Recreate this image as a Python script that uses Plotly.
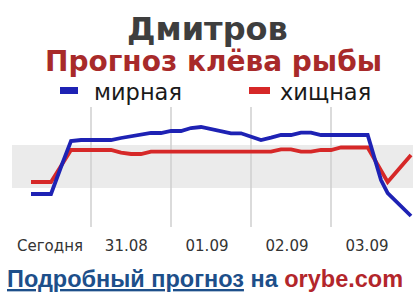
import plotly.graph_objects as go

# ---- data (hours from start of "today"; bite activity index) ----
blue_hours = [6, 9, 12, 15, 18, 21, 24, 27, 30, 33, 36, 39, 42, 45, 48, 51, 54, 57, 60,
              63, 66, 69, 72, 75, 78, 81, 84, 87, 90, 93, 96, 99, 102, 105, 107, 111, 113, 120]
blue_vals = [3.6, 3.6, 3.6, 6.3, 8.9, 9.0, 9.0, 9.0, 9.0, 9.2, 9.35, 9.5, 9.7, 9.7, 9.9, 9.9,
             10.2, 10.3, 10.07, 9.83, 9.67, 9.67, 9.3, 9.0, 9.23, 9.5, 9.5, 9.73, 9.73, 9.5,
             9.5, 9.5, 9.5, 9.5, 9.5, 5.0, 3.7, 1.4]

red_hours = [6, 9, 12, 15, 18, 21, 24, 27, 30, 33, 36, 39, 42, 45, 48, 51, 54, 57, 60,
             63, 66, 69, 72, 75, 78, 81, 84, 87, 90, 93, 96, 99, 102, 105, 107, 113, 120]
red_vals = [4.8, 4.8, 4.8, 6.4, 8.0, 8.0, 8.0, 8.0, 8.0, 7.73, 7.6, 7.6, 7.83, 7.83, 7.83,
            7.83, 7.83, 7.83, 7.83, 7.83, 7.83, 7.83, 7.83, 7.83, 7.83, 8.07, 8.07, 7.83,
            7.83, 8.0, 8.0, 8.25, 8.25, 8.25, 8.25, 4.8, 7.5]

tick_hours = [11.7, 34.6, 58.8, 82.8, 106.8]
tick_labels = ["Сегодня", "31.08", "01.09", "02.09", "03.09"]
day_bounds = [24, 48, 72, 96]
band = [4.2, 8.5]

series_names = ["мирная", "хищная"]
blue = "#1e22b4"
red = "#d62828"

W, H = 420, 300
T, B = 100, 70
PH = H - T - B

def px(x):
    return x / W
def py(y):
    return (H - B - y) / PH

fig = go.Figure()

# grey band
fig.add_shape(type="rect", xref="x", yref="y", x0=0.3, x1=120.6, y0=band[0], y1=band[1],
              fillcolor="#ebebeb", line_width=0, layer="below")
# day separators
for d in day_bounds:
    fig.add_shape(type="line", xref="x", yref="y", x0=d, x1=d, y0=0.3, y1=12.3,
                  line=dict(color="#cfcfcf", width=1.5), layer="below")

fig.add_trace(go.Scatter(x=red_hours, y=red_vals, mode="lines", name=series_names[1],
                         line=dict(color=red, width=3.8), showlegend=False))
fig.add_trace(go.Scatter(x=blue_hours, y=blue_vals, mode="lines", name=series_names[0],
                         line=dict(color=blue, width=3.8), showlegend=False))

# legend (custom)
fig.add_shape(type="rect", xref="paper", yref="paper", x0=px(60), x1=px(78), y0=py(94), y1=py(87),
              fillcolor=blue, line_width=0)
fig.add_shape(type="rect", xref="paper", yref="paper", x0=px(249), x1=px(270), y0=py(94), y1=py(87),
              fillcolor=red, line_width=0)

annotations = [
    dict(text="<b>Дмитров</b>", x=px(207), y=py(29.5), xanchor="center", yanchor="middle",
         font=dict(family="DejaVu Sans", size=32, color="#3e3e3e")),
    dict(text="<b>Прогноз клёва рыбы</b>", x=px(213), y=py(62), xanchor="center", yanchor="middle",
         font=dict(family="DejaVu Sans", size=28, color="#a82a2a")),
    dict(text=series_names[0], x=px(92), y=py(91.5), xanchor="left", yanchor="middle",
         font=dict(family="DejaVu Sans", size=22.5, color="#1a1a1a")),
    dict(text=series_names[1], x=px(278), y=py(91.5), xanchor="left", yanchor="middle",
         font=dict(family="DejaVu Sans", size=22.5, color="#1a1a1a")),
    dict(text="<b><span style='color:#1d4f8a'><u>Подробный прогноз</u> на</span> "
              "<span style='color:#b3262b'>orybe.com</span></b>",
         x=px(205), y=py(279), xanchor="center", yanchor="middle",
         font=dict(family="Liberation Sans", size=23.5)),
]
for a in annotations:
    a.update(xref="paper", yref="paper", showarrow=False)

fig.update_layout(
    width=W, height=H,
    margin=dict(l=0, r=0, t=T, b=B),
    paper_bgcolor="white", plot_bgcolor="white",
    annotations=annotations,
    xaxis=dict(range=[-3.3, 122.7], showgrid=False, zeroline=False, showline=False,
               tickmode="array", tickvals=tick_hours, ticktext=tick_labels,
               tickfont=dict(family="DejaVu Sans", size=15, color="#333333"),
               ticks="", ticklabelstandoff=5, fixedrange=True),
    yaxis=dict(range=[0, 13], showgrid=False, zeroline=False, showline=False,
               showticklabels=False, fixedrange=True),
    showlegend=False,
)

fig.write_html("out.html")
